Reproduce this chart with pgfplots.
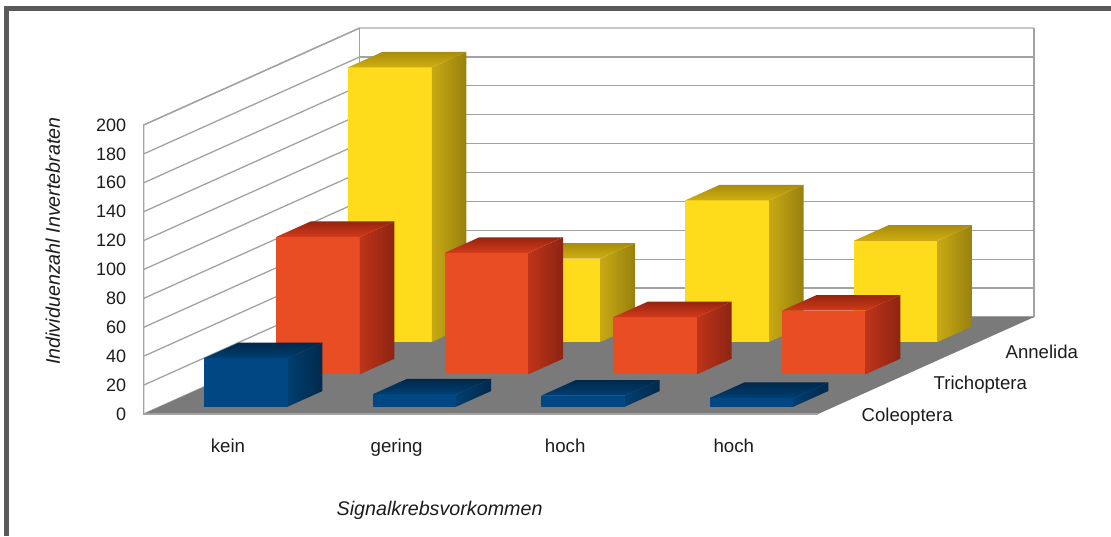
\documentclass[border=0pt]{standalone}
\usepackage{fontspec}
\setmainfont{Liberation Sans}
\usepackage{pgfplots}
\pgfplotsset{compat=1.18}
\definecolor{frameC}{HTML}{5A5A5A}
\definecolor{gridC}{HTML}{A2A2A2}
\definecolor{gridT}{HTML}{C8C8C8}
\definecolor{floorC}{HTML}{7A7A7A}
\definecolor{txtC}{HTML}{1C1C1C}
\definecolor{yF}{HTML}{FEDB1B}\definecolor{yS}{HTML}{C8A914}\definecolor{yD}{HTML}{97800E}\definecolor{yT}{HTML}{D0AE10}\definecolor{yB}{HTML}{A88C0C}
\definecolor{rF}{HTML}{E84D24}\definecolor{rS}{HTML}{BE341A}\definecolor{rD}{HTML}{8C2412}\definecolor{rT}{HTML}{D43A1A}\definecolor{rB}{HTML}{96240F}
\definecolor{bF}{HTML}{004884}\definecolor{bS}{HTML}{003E70}\definecolor{bD}{HTML}{002A4C}\definecolor{bT}{HTML}{003F72}\definecolor{bB}{HTML}{00284A}
% x0 x1 y0 y1 value colour-prefix
\newcommand{\threebar}[6]{%
 \addplot3[draw=none,fill=#6F,forget plot,mark=none] coordinates {(#1,#3,0)(#2,#3,0)(#2,#3,#5)(#1,#3,#5)} -- cycle;
 \addplot3[draw=none,shade,left color=#6S,right color=#6D,forget plot,mark=none] coordinates {(#2,#3,0)(#2,#4,0)(#2,#4,#5)(#2,#3,#5)} -- cycle;
 \addplot3[draw=none,shade,bottom color=#6T,top color=#6B,forget plot,mark=none] coordinates {(#1,#3,#5)(#2,#3,#5)(#2,#4,#5)(#1,#4,#5)} -- cycle;
}
\begin{document}
\begin{tikzpicture}[x=1pt,y=1pt]
\useasboundingbox (0,0) rectangle (1111,536);
\fill[frameC] (4,525) rectangle (1111,530);
\fill[frameC] (4,0) rectangle (9,530);
\begin{axis}[
  at={(143.7pt,122pt)},anchor=origin,
  x={(168.6pt,0pt)},y={(72pt,32.33pt)},z={(0pt,1.445pt)},
  xmin=0,xmax=4,ymin=0,ymax=3,zmin=0,zmax=200,
  clip=false,
  axis line style={draw=none},
  tick style={draw=none},
  major tick length=0pt,
  /pgf/number format/assume math mode=true,
  xtick={0.5,1.5,2.5,3.5},
  xticklabels={kein,gering,hoch,hoch},
  ytick={0.5,1.5,2.5},
  yticklabels={Coleoptera,Trichoptera,Annelida},
  ztick={0,20,40,60,80,100,120,140,160,180,200},
  zmajorgrids=true,xmajorgrids=false,ymajorgrids=false,
  grid style={gridC,line width=1.3pt},
  xticklabel style={font=\fontsize{18.7}{20}\selectfont,text=txtC,anchor=base,xshift=0pt,yshift=-38pt},
  yticklabel style={font=\fontsize{18.6}{20}\selectfont,text=txtC,anchor=west,xshift=4pt,yshift=-19pt},
  zticklabel style={font=\fontsize{18}{20}\selectfont,text=txtC,anchor=east,xshift=-14pt,yshift=0pt},
  xlabel={Signalkrebsvorkommen},
  zlabel={Individuenzahl Invertebraten},
  every axis x label/.style={at={(axis cs:1.755,0,-66.5)},anchor=center,text=txtC,font=\fontsize{19.7}{20}\selectfont\itshape},
  every axis z label/.style={at={(axis cs:-0.539,0,119.7)},anchor=center,rotate=90,text=txtC,font=\fontsize{19.7}{20}\selectfont\itshape},
]
% walls
\addplot3[gridT,line width=1.3pt,forget plot,mark=none] coordinates {(0,3,200)(4,3,200)};
\addplot3[gridC,line width=1.3pt,forget plot,mark=none] coordinates {(0,0,0)(0,0,200)(0,3,200)};
\addplot3[gridC,line width=1.5pt,forget plot,mark=none] coordinates {(4,3,200)(4,3,0)};
\addplot3[gridC,line width=1.3pt,forget plot,mark=none] coordinates {(0,3,0)(0,3,200)};
% floor
\addplot3[draw=none,fill=floorC,forget plot,mark=none] coordinates {(0,0,0)(4,0,0)(4,3,0)(0,3,0)} -- cycle;
\addplot3[gridC,line width=1.3pt,forget plot,mark=none] coordinates {(0,0,200)(0,0,0)(4,0,0)};
% Annelida
\threebar{0.26}{0.757}{2.23}{2.71}{190}{y}
\threebar{1.26}{1.757}{2.23}{2.71}{57.7}{y}
\threebar{2.26}{2.757}{2.23}{2.71}{98}{y}
\threebar{3.26}{3.757}{2.23}{2.71}{70}{y}
% Trichoptera
\threebar{0.26}{0.757}{1.23}{1.71}{95}{r}
\threebar{1.26}{1.757}{1.23}{1.71}{84}{r}
\threebar{2.26}{2.757}{1.23}{1.71}{39.5}{r}
\threebar{3.26}{3.757}{1.23}{1.71}{44}{r}
% Coleoptera
\threebar{0.26}{0.757}{0.23}{0.71}{33.5}{b}
\threebar{1.26}{1.757}{0.23}{0.71}{8.5}{b}
\threebar{2.26}{2.757}{0.23}{0.71}{7.6}{b}
\threebar{3.26}{3.757}{0.23}{0.71}{6}{b}
\end{axis}
\end{tikzpicture}
\end{document}
